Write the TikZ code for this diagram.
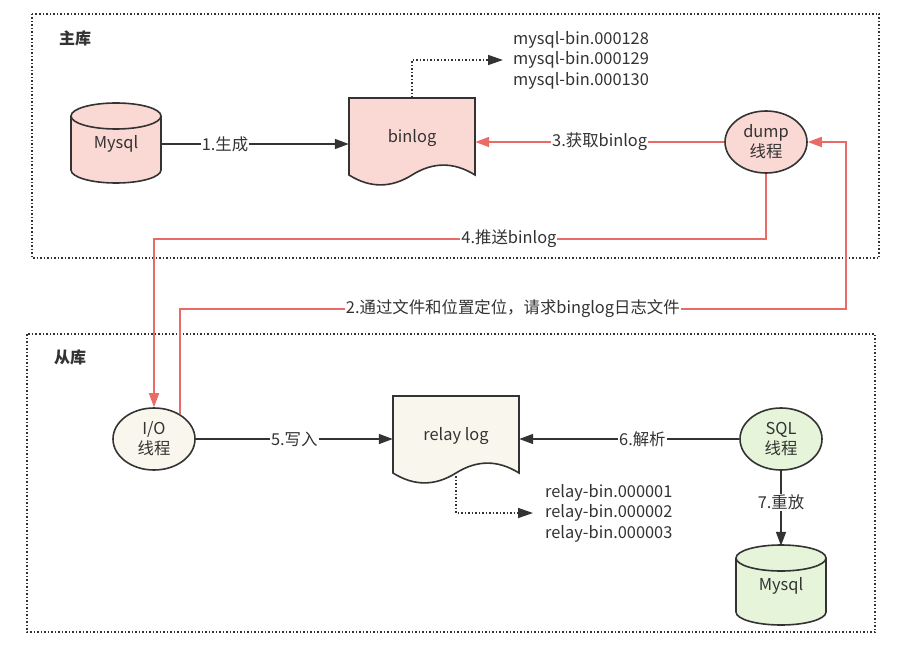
\documentclass[tikz,border=0pt]{standalone}
\usepackage{fontspec}
\setmainfont{Noto Sans CJK SC}
\usetikzlibrary{arrows.meta,shapes.geometric,calc}
\definecolor{linegray}{HTML}{333333}
\definecolor{textgray}{HTML}{333333}
\definecolor{pinkfill}{HTML}{FAD9D5}
\definecolor{yellowfill}{HTML}{F9F7ED}
\definecolor{greenfill}{HTML}{E6F5D9}
\definecolor{redline}{HTML}{EA6B66}

\newcommand\docshape[5]{%
  \begin{scope}[shift={(#3,#4)}]
    \draw[shapeline,fill=#2] (0,0) -- (126,0) -- (126,77)
      .. controls (105,63.8) and (84,63.8) .. (63,77)
      .. controls (42,90.2) and (21,90.2) .. (0,77) -- cycle;
    \node[boxnode] (#1) at (63,40) {#5};
  \end{scope}}
\newcommand\cylshape[5]{%
  \begin{scope}[shift={(#3,#4)}]
    \draw[shapeline,fill=#2] (0,13) -- (0,67)
      .. controls (0,74.2) and (20.2,80) .. (45,80)
      .. controls (69.8,80) and (90,74.2) .. (90,67) -- (90,13)
      .. controls (90,5.8) and (69.8,0) .. (45,0)
      .. controls (20.2,0) and (0,5.8) .. (0,13) -- cycle;
    \draw[shapeline] (0,13) .. controls (0,20.2) and (20.2,26) .. (45,26)
      .. controls (69.8,26) and (90,20.2) .. (90,13);
    \node[cylnode] (#1) at (45,41) {#5};
  \end{scope}}

\begin{document}
\begin{tikzpicture}[x=1pt,y=-1pt,
    every node/.style={font=\fontsize{16.4}{20.5}\selectfont,text=textgray},
    shapeline/.style={draw=linegray,line width=1.6pt},
    boxnode/.style={minimum width=126pt,minimum height=80pt,inner sep=0pt},
    cylnode/.style={minimum width=90pt,minimum height=80pt,inner sep=0pt},
    thread/.style={ellipse,draw=linegray,line width=1.6pt,minimum width=82pt,
      minimum height=62pt,inner sep=0pt,align=center,
      font=\fontsize{16.4}{20}\selectfont},
    zone/.style={draw=linegray,line width=1.5pt,dash pattern=on 1.5pt off 2pt},
    title/.style={font=\fontsize{16}{20}\selectfont\bfseries},
    lbl/.style={fill=white,inner sep=1pt},
    files/.style={align=left,anchor=west,inner ysep=0pt},
    flow/.style={draw=linegray,line width=1.6pt,
      -{Triangle[length=14pt,width=10pt]}},
    redflow/.style={draw=redline,line width=1.6pt,
      -{Triangle[length=14pt,width=10pt,fill=redline]}},
    dotflow/.style={draw=linegray,line width=1.5pt,dash pattern=on 1.5pt off 2pt,
      -{Triangle[length=15pt,width=10pt,fill=linegray]}}]
    \useasboundingbox (0,0) rectangle (909,652);

    \draw[zone] (32,14) rectangle (879,258);
    \draw[zone] (27,334) rectangle (875,632);
    \node[title] (master) at (75,38) {主库};
    \node[title] (slave) at (70,357) {从库};

    \cylshape{mysql1}{pinkfill}{71}{103}{Mysql}
    \docshape{binlog}{pinkfill}{349}{98}{binlog}
    \node[thread,fill=pinkfill] (dump) at (766,142) {dump\\线程};
    \node[files,inner xsep=10pt] (mbin) at (503,60)
      {mysql-bin.000128\\mysql-bin.000129\\mysql-bin.000130};

    \node[thread,fill=yellowfill] (io) at (154,439) {I/O\\线程};
    \docshape{relay}{yellowfill}{393}{396}{relay log}
    \node[thread,fill=greenfill] (sql) at (781,439) {SQL\\线程};
    \cylshape{mysql2}{greenfill}{736}{545}{Mysql}
    \node[files,inner xsep=12pt] (rbin) at (533,513)
      {relay-bin.000001\\relay-bin.000002\\relay-bin.000003};

    \draw[flow] (mysql1.east) -- node[lbl,pos=0.34] {1.生成} (mysql1.east -| binlog.west);
    \draw[dotflow] (binlog.north) |- (mbin.west);
    \draw[redflow] (dump.west) -- node[lbl] {3.获取binlog} (dump.west -| binlog.east);
    \draw[redflow] (dump.south) -- ++(0,65) -| node[lbl,pos=0.21] {4.推送binlog} (io.north);
    \draw[redflow] (io.44) -- ++(0,-105) -- node[lbl] {2.通过文件和位置定位，请求binglog日志文件} ++(666,0) |- (dump.east);
    \draw[flow] (io.east) -- node[lbl] {5.写入} (io.east -| relay.west);
    \draw[dotflow] (relay.south) |- (rbin.west);
    \draw[flow] (sql.west) -- node[lbl,pos=0.44] {6.解析} (sql.west -| relay.east);
    \draw[flow] (sql.south) -- node[lbl,pos=0.42] {7.重放} (mysql2.north);
\end{tikzpicture}
\end{document}
